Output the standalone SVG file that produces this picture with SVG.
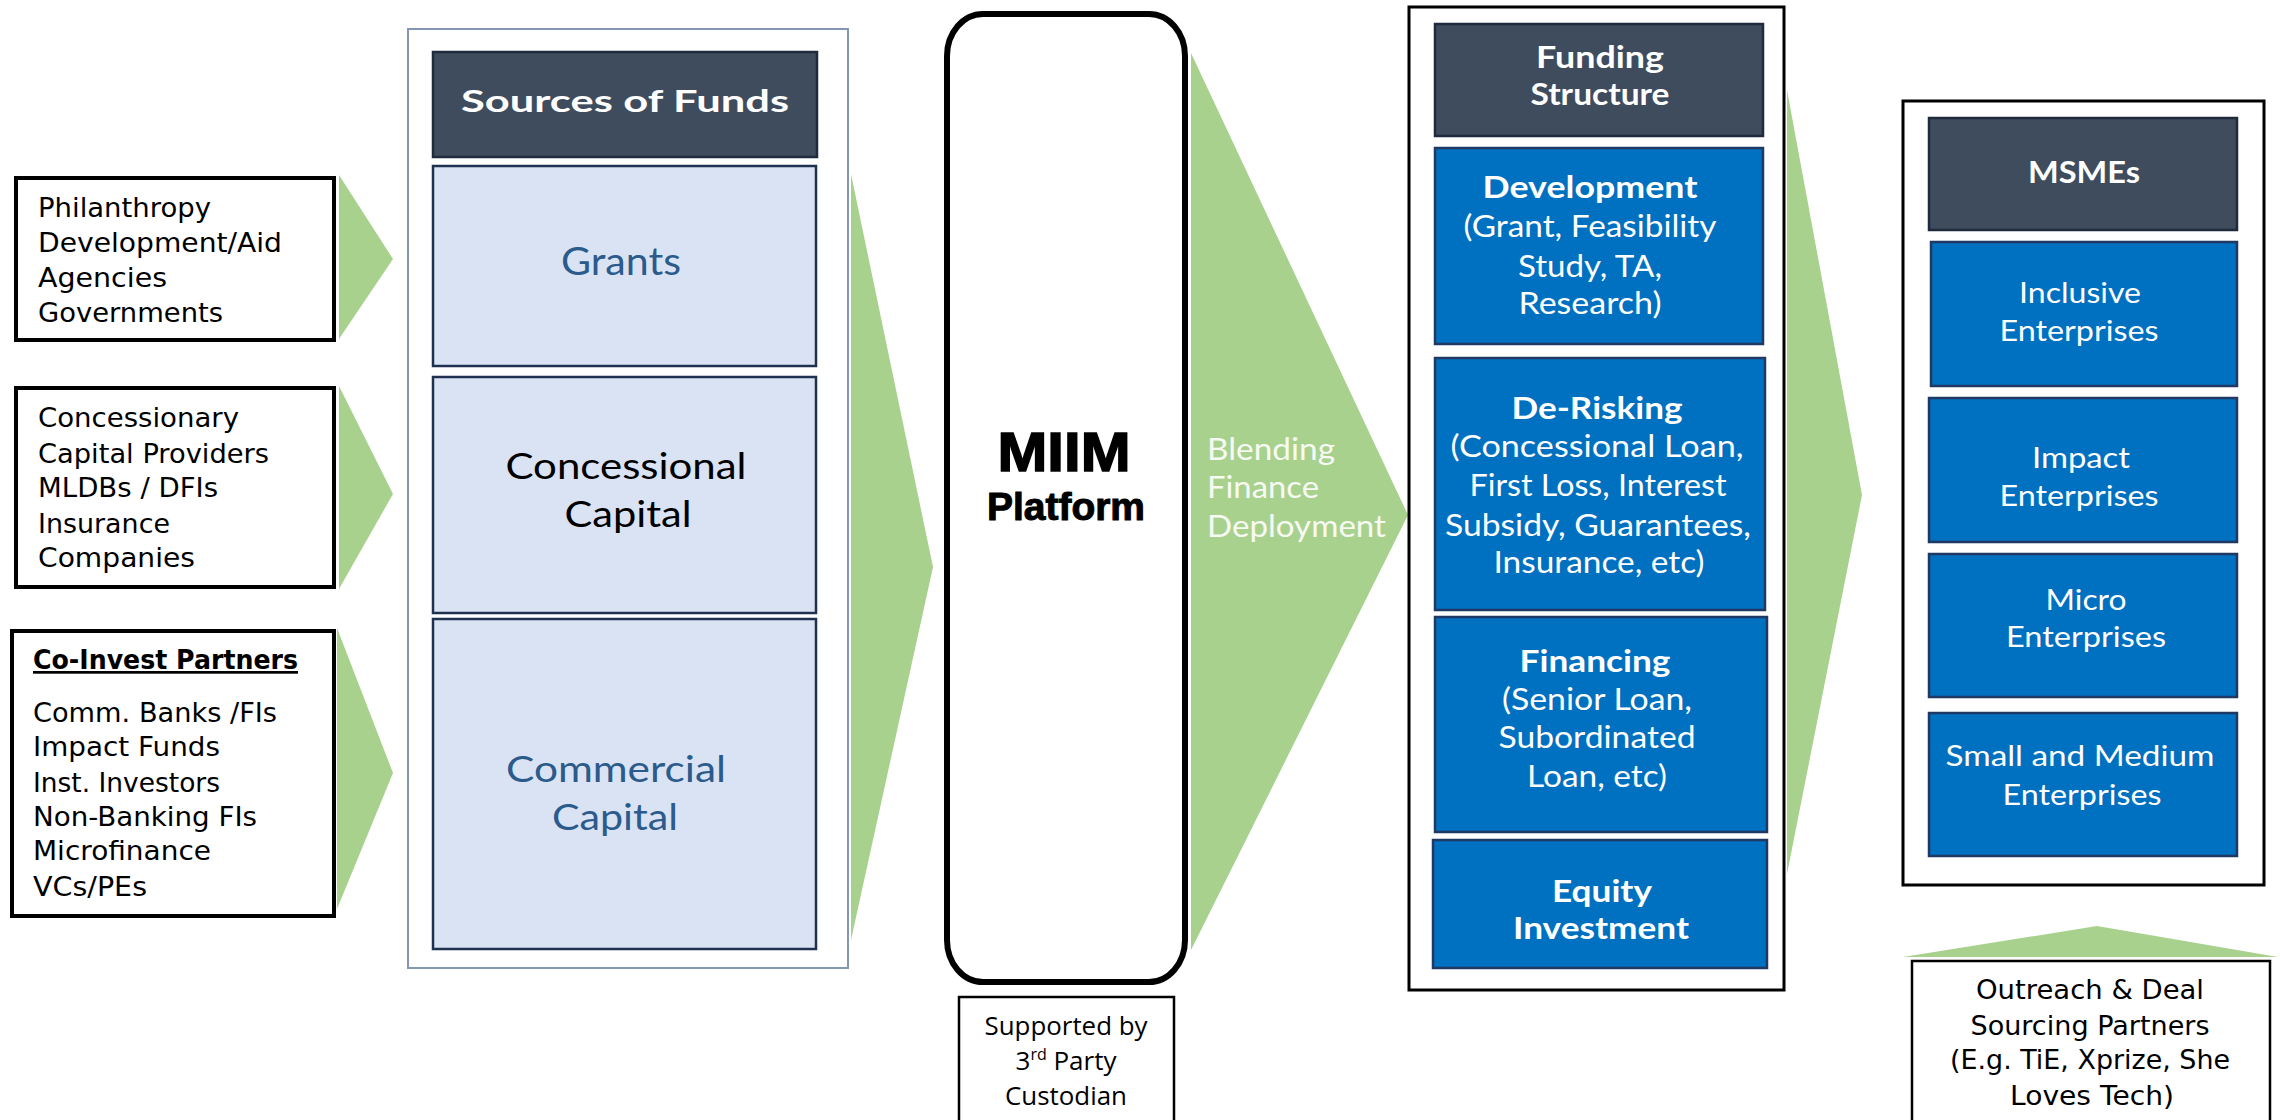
<svg xmlns="http://www.w3.org/2000/svg" width="2280" height="1120" viewBox="0 0 2280 1120">
  <style>
    .src { fill: #ffffff; stroke: #000000; stroke-width: 4; }
    .st { font-family: "DejaVu Sans", sans-serif; font-size: 27px; fill: #000000; }
    .panel { fill: #ffffff; stroke: #8497B0; stroke-width: 2; }
    .frame { fill: #ffffff; stroke: #000000; stroke-width: 3; }
    .head { fill: #3E4C5E; stroke: #1F2B3C; stroke-width: 2.5; }
    .light { fill: #DAE3F3; stroke: #1F3050; stroke-width: 2.5; }
    .blue { fill: #0070C0; stroke: #1F3864; stroke-width: 2.5; }
    .arrow { fill: #A9D18E; }
    .av { font-family: Lato, "Open Sans", sans-serif; text-anchor: middle; }
    .hb { font-weight: 700; font-size: 31px; fill: #ffffff; }
    .wb { font-weight: 700; font-size: 30px; fill: #ffffff; }
    .wr { font-weight: 400; font-size: 30px; fill: #ffffff; }
    .ent { font-weight: 400; font-size: 29px; fill: #ffffff; }
    .navy { fill: #2B5B8C; }
    .gothic { font-family: "DejaVu Sans", sans-serif; font-size: 26px; fill: #000000; text-anchor: middle; }
  </style>

  <!-- connectors: green chevrons -->
  <g id="connectors">
    <polygon class="arrow" points="339,175 393,259 339,339"/>
    <polygon class="arrow" points="339,386 393,494 339,589"/>
    <polygon class="arrow" points="337,628 393,773 337,909"/>
    <polygon class="arrow" points="851,174 933,567 851,940"/>
    <polygon class="arrow" points="1191,53 1408,515 1191,950"/>
    <polygon class="arrow" points="1787,90 1862,495 1787,874"/>
    <polygon class="arrow" points="1903,957 2097,926 2278,957"/>
  </g>

  <!-- capital providers -->
  <g id="providers-grants">
    <rect class="src" x="16" y="178" width="318" height="162"/>
    <text class="st" x="38" y="217" textLength="173" lengthAdjust="spacingAndGlyphs">Philanthropy</text>
    <text class="st" x="38" y="252" textLength="244" lengthAdjust="spacingAndGlyphs">Development/Aid</text>
    <text class="st" x="38" y="287" textLength="129" lengthAdjust="spacingAndGlyphs">Agencies</text>
    <text class="st" x="38" y="322" textLength="185" lengthAdjust="spacingAndGlyphs">Governments</text>
  </g>
  <g id="providers-concessional">
    <rect class="src" x="16" y="388" width="318" height="199"/>
    <text class="st" x="38" y="427" textLength="201" lengthAdjust="spacingAndGlyphs">Concessionary</text>
    <text class="st" x="38" y="463" textLength="231" lengthAdjust="spacingAndGlyphs">Capital Providers</text>
    <text class="st" x="38" y="497" textLength="180" lengthAdjust="spacingAndGlyphs">MLDBs / DFIs</text>
    <text class="st" x="38" y="533" textLength="132" lengthAdjust="spacingAndGlyphs">Insurance</text>
    <text class="st" x="38" y="567" textLength="157" lengthAdjust="spacingAndGlyphs">Companies</text>
  </g>
  <g id="providers-coinvest">
    <rect class="src" x="12" y="631" width="322" height="285"/>
    <text class="st" x="33" y="669" font-weight="700" font-size="26" text-decoration="underline" textLength="265" lengthAdjust="spacingAndGlyphs">Co-Invest Partners</text>
    <text class="st" x="33" y="722" textLength="244" lengthAdjust="spacingAndGlyphs">Comm. Banks /FIs</text>
    <text class="st" x="33" y="756" textLength="187" lengthAdjust="spacingAndGlyphs">Impact Funds</text>
    <text class="st" x="33" y="792" textLength="187" lengthAdjust="spacingAndGlyphs">Inst. Investors</text>
    <text class="st" x="33" y="826" textLength="224" lengthAdjust="spacingAndGlyphs">Non-Banking FIs</text>
    <text class="st" x="33" y="860" textLength="178" lengthAdjust="spacingAndGlyphs">Microfinance</text>
    <text class="st" x="33" y="896" textLength="114" lengthAdjust="spacingAndGlyphs">VCs/PEs</text>
  </g>

  <!-- sources of funds -->
  <g id="sources">
    <rect class="panel" x="408" y="29" width="440" height="939"/>
    <rect class="head" x="433" y="52" width="384" height="105"/>
    <text class="av hb" x="625" y="112" font-size="35" textLength="328" lengthAdjust="spacingAndGlyphs">Sources of Funds</text>
  </g>
  <g id="grants">
    <rect class="light" x="433" y="166" width="383" height="200"/>
    <text class="av navy" x="621" y="275" font-size="39" textLength="120" lengthAdjust="spacingAndGlyphs">Grants</text>
  </g>
  <g id="concessional-capital">
    <rect class="light" x="433" y="377" width="383" height="236"/>
    <text class="av" x="626" y="479" font-size="36" fill="#000000" textLength="241" lengthAdjust="spacingAndGlyphs">Concessional</text>
    <text class="av" x="628" y="527" font-size="36" fill="#000000" textLength="127" lengthAdjust="spacingAndGlyphs">Capital</text>
  </g>
  <g id="commercial-capital">
    <rect class="light" x="433" y="619" width="383" height="330"/>
    <text class="av navy" x="616" y="782" font-size="37" textLength="220" lengthAdjust="spacingAndGlyphs">Commercial</text>
    <text class="av navy" x="615" y="830" font-size="37" textLength="126" lengthAdjust="spacingAndGlyphs">Capital</text>
  </g>

  <!-- platform -->
  <g id="platform">
    <rect x="947" y="14" width="238" height="968" rx="36" ry="42" fill="#ffffff" stroke="#000000" stroke-width="6"/>
    <text x="1064" y="471" font-family="Liberation Sans, Arial, sans-serif" font-weight="700" font-size="55" text-anchor="middle" stroke="#000" stroke-width="1.5" textLength="133" lengthAdjust="spacingAndGlyphs">MIIM</text>
    <text x="1066" y="520" font-family="Liberation Sans, Arial, sans-serif" font-weight="700" font-size="38" text-anchor="middle" stroke="#000" stroke-width="1" textLength="158" lengthAdjust="spacingAndGlyphs">Platform</text>
  </g>
  <g id="custodian">
    <rect x="959" y="997" width="215" height="140" fill="#ffffff" stroke="#000000" stroke-width="2.5"/>
    <text x="1066" y="1035" font-family="Open Sans, sans-serif" font-size="26" text-anchor="middle" textLength="163" lengthAdjust="spacingAndGlyphs">Supported by</text>
    <text x="1066" y="1070" font-family="Open Sans, sans-serif" font-size="26" text-anchor="middle">3<tspan font-size="16" dy="-10">rd</tspan><tspan dy="10"> Party</tspan></text>
    <text x="1066" y="1105" font-family="Open Sans, sans-serif" font-size="26" text-anchor="middle" textLength="122" lengthAdjust="spacingAndGlyphs">Custodian</text>
  </g>

  <!-- deployment label on chevron -->
  <g id="deployment-label" font-family="Lato, sans-serif" font-weight="400" font-size="30" fill="#F6FAF3">
    <text x="1207" y="460" textLength="128" lengthAdjust="spacingAndGlyphs">Blending</text>
    <text x="1207" y="498" textLength="112" lengthAdjust="spacingAndGlyphs">Finance</text>
    <text x="1207" y="537" textLength="179" lengthAdjust="spacingAndGlyphs">Deployment</text>
  </g>

  <!-- funding structure -->
  <g id="funding-structure">
    <rect class="frame" x="1409" y="7" width="375" height="983"/>
    <rect class="head" x="1435" y="24" width="328" height="112"/>
    <text class="av hb" x="1600" y="68" textLength="128" lengthAdjust="spacingAndGlyphs">Funding</text>
    <text class="av hb" x="1600" y="105" textLength="139" lengthAdjust="spacingAndGlyphs">Structure</text>
  </g>
  <g id="development">
    <rect class="blue" x="1435" y="148" width="328" height="196"/>
    <text class="av wb" x="1590" y="198" textLength="215" lengthAdjust="spacingAndGlyphs">Development</text>
    <text class="av wr" x="1590" y="237" textLength="253" lengthAdjust="spacingAndGlyphs">(Grant, Feasibility</text>
    <text class="av wr" x="1590" y="277" textLength="144" lengthAdjust="spacingAndGlyphs">Study, TA,</text>
    <text class="av wr" x="1590" y="314" textLength="143" lengthAdjust="spacingAndGlyphs">Research)</text>
  </g>
  <g id="de-risking">
    <rect class="blue" x="1435" y="358" width="330" height="252"/>
    <text class="av wb" x="1597" y="419" textLength="171" lengthAdjust="spacingAndGlyphs">De-Risking</text>
    <text class="av wr" x="1597" y="457" textLength="293" lengthAdjust="spacingAndGlyphs">(Concessional Loan,</text>
    <text class="av wr" x="1598" y="496" textLength="257" lengthAdjust="spacingAndGlyphs">First Loss, Interest</text>
    <text class="av wr" x="1598" y="536" textLength="306" lengthAdjust="spacingAndGlyphs">Subsidy, Guarantees,</text>
    <text class="av wr" x="1599" y="573" textLength="211" lengthAdjust="spacingAndGlyphs">Insurance, etc)</text>
  </g>
  <g id="financing">
    <rect class="blue" x="1435" y="617" width="332" height="215"/>
    <text class="av wb" x="1595" y="672" textLength="151" lengthAdjust="spacingAndGlyphs">Financing</text>
    <text class="av wr" x="1597" y="710" textLength="190" lengthAdjust="spacingAndGlyphs">(Senior Loan,</text>
    <text class="av wr" x="1597" y="748" textLength="197" lengthAdjust="spacingAndGlyphs">Subordinated</text>
    <text class="av wr" x="1597" y="787" textLength="140" lengthAdjust="spacingAndGlyphs">Loan, etc)</text>
  </g>
  <g id="equity">
    <rect class="blue" x="1433" y="840" width="334" height="128"/>
    <text class="av wb" x="1602" y="902" textLength="100" lengthAdjust="spacingAndGlyphs">Equity</text>
    <text class="av wb" x="1601" y="939" textLength="176" lengthAdjust="spacingAndGlyphs">Investment</text>
  </g>

  <!-- MSMEs -->
  <g id="msmes">
    <rect class="frame" x="1903" y="101" width="361" height="784"/>
    <rect class="head" x="1929" y="118" width="308" height="112"/>
    <text class="av hb" x="2084" y="183" textLength="112" lengthAdjust="spacingAndGlyphs">MSMEs</text>
  </g>
  <g id="inclusive">
    <rect class="blue" x="1931" y="242" width="306" height="144"/>
    <text class="av ent" x="2080" y="303" textLength="122" lengthAdjust="spacingAndGlyphs">Inclusive</text>
    <text class="av ent" x="2079" y="341" textLength="159" lengthAdjust="spacingAndGlyphs">Enterprises</text>
  </g>
  <g id="impact">
    <rect class="blue" x="1929" y="398" width="308" height="144"/>
    <text class="av ent" x="2081" y="468" textLength="98" lengthAdjust="spacingAndGlyphs">Impact</text>
    <text class="av ent" x="2079" y="506" textLength="159" lengthAdjust="spacingAndGlyphs">Enterprises</text>
  </g>
  <g id="micro">
    <rect class="blue" x="1929" y="554" width="308" height="143"/>
    <text class="av ent" x="2086" y="610" textLength="81" lengthAdjust="spacingAndGlyphs">Micro</text>
    <text class="av ent" x="2086" y="647" textLength="160" lengthAdjust="spacingAndGlyphs">Enterprises</text>
  </g>
  <g id="sme">
    <rect class="blue" x="1929" y="713" width="308" height="143"/>
    <text class="av ent" x="2080" y="766" textLength="269" lengthAdjust="spacingAndGlyphs">Small and Medium</text>
    <text class="av ent" x="2082" y="805" textLength="159" lengthAdjust="spacingAndGlyphs">Enterprises</text>
  </g>

  <!-- outreach partners -->
  <g id="outreach">
    <rect x="1912" y="961" width="358" height="180" fill="#ffffff" stroke="#000000" stroke-width="2.5"/>
    <text class="gothic" x="2090" y="999" textLength="228" lengthAdjust="spacingAndGlyphs">Outreach &amp; Deal</text>
    <text class="gothic" x="2090" y="1035" textLength="239" lengthAdjust="spacingAndGlyphs">Sourcing Partners</text>
    <text class="gothic" x="2090" y="1069" textLength="280" lengthAdjust="spacingAndGlyphs">(E.g. TiE, Xprize, She</text>
    <text class="gothic" x="2092" y="1105" textLength="164" lengthAdjust="spacingAndGlyphs">Loves Tech)</text>
  </g>
</svg>
